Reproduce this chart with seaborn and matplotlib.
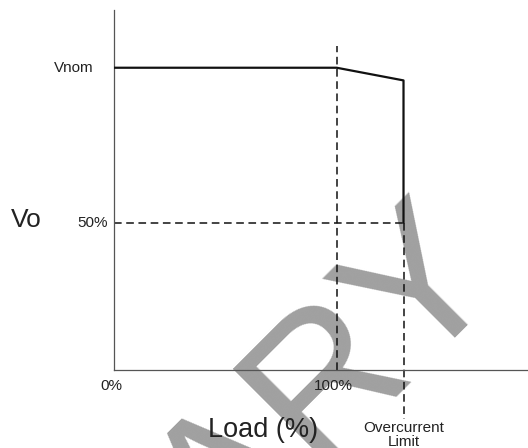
import matplotlib
matplotlib.use("Agg")
import matplotlib.pyplot as plt
import seaborn as sns
import pandas as pd

# ============================================
# DATA
# ============================================

load_pct   = [0, 100, 130, 130]          # load (% of rated)
vo_pct     = [102.6, 102.6, 98.3, 50]    # output voltage (% of nominal)
VNOM       = 102.6
HALF       = 50
RATED      = 100
OC_LIMIT   = 130
x_ticks    = [0, 100]
x_labels   = ["0%", "100%"]

W, H = 528, 448


def fx(px):
    return px / W


def fy(py):
    return 1 - py / H


sns.set_theme(style="white")
plt.rcParams["font.family"] = ["Liberation Sans", "DejaVu Sans"]

fig = plt.figure(figsize=(W / 100, H / 100), dpi=100)
ax = fig.add_axes([fx(114), fy(370), 1 - fx(114), fy(10) - fy(370)])
ax.patch.set_alpha(0)

curve = pd.DataFrame({"load": load_pct, "vo": vo_pct})
sns.lineplot(data=curve, x="load", y="vo", sort=False, estimator=None,
             color="#111111", linewidth=1.6, ax=ax, zorder=3)

dash = (0, (5, 3))
ax.plot([RATED, RATED], [0, 110], color="#111111", lw=1.1, ls=dash, zorder=2)
ax.plot([0, OC_LIMIT], [HALF, HALF], color="#111111", lw=1.1, ls=dash, zorder=2)
ax.plot([OC_LIMIT, OC_LIMIT], [HALF, -16.5], color="#111111", lw=1.1, ls=dash,
        zorder=2, clip_on=False)

ax.set_xlim(0, 185.9)
ax.set_ylim(0, 122.2)
ax.set_xticks([])
ax.set_yticks([])
ax.set_xlabel("")
ax.set_ylabel("")
for side in ["top", "right"]:
    ax.spines[side].set_visible(False)
for side in ["left", "bottom"]:
    ax.spines[side].set_color("#555555")
    ax.spines[side].set_linewidth(0.9)

# watermark (behind the chart lines)
ax.text(fx(504), fy(272), "PRELIMINARY", transform=fig.transFigure,
        fontsize=142, color="#a0a0a0", rotation=45, rotation_mode="anchor",
        ha="right", va="baseline", zorder=0.5, clip_on=False)

# labels
txt = "#222222"
ax.text(-9.4, VNOM, "Vnom", ha="right", va="center", fontsize=11, color=txt)
ax.text(-2.6, HALF, "50%", ha="right", va="center", fontsize=11, color=txt)
for xv, lab in zip(x_ticks, x_labels):
    ax.text(xv - 1.4, -6.8, lab, ha="center", va="baseline", fontsize=11,
            color=txt, clip_on=False)

fig.text(fx(26), fy(227), "Vo", ha="center", va="baseline", fontsize=19, color=txt)
fig.text(fx(263), fy(437), "Load (%)", ha="center", va="baseline", fontsize=19.5,
         color=txt)
fig.text(fx(404), fy(431.5), "Overcurrent", ha="center", va="baseline", fontsize=11,
         color=txt)
fig.text(fx(404), fy(445.5), "Limit", ha="center", va="baseline", fontsize=11,
         color=txt)

plt.savefig("out.png", dpi=100)
plt.close()
